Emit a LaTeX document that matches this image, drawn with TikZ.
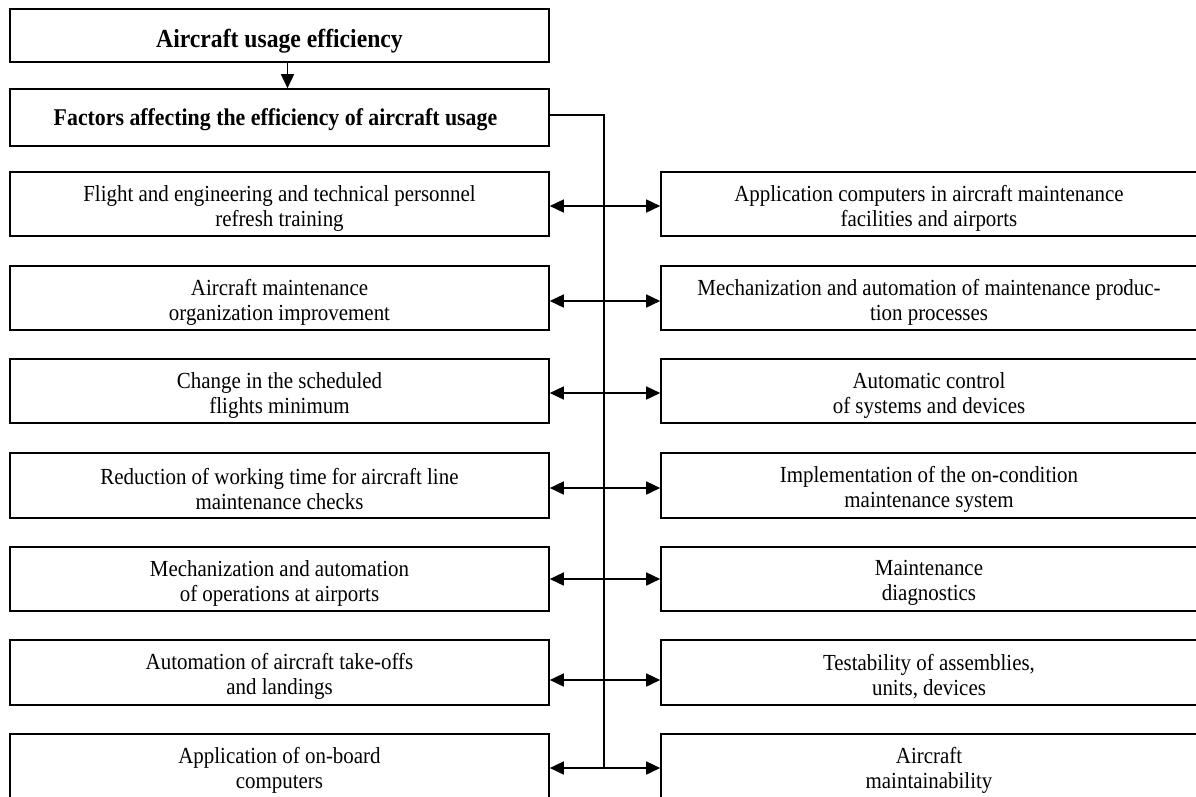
\documentclass[tikz,border=0pt]{standalone}
\usepackage{fontspec}
\setmainfont{Liberation Serif}
\newfontfamily\narrowserif[FakeStretch=0.91]{Liberation Serif}
\usetikzlibrary{arrows.meta}
\tikzset{
  box/.style={draw, line width=1.6pt, rectangle, inner sep=0pt},
  lbox/.style={box, minimum width=539pt, minimum height=64.5pt},
  rbox/.style={box, minimum width=536pt, minimum height=64.5pt},
  txt/.style={align=center, inner sep=0pt, font=\narrowserif\fontsize{23}{25}\selectfont},
  conn/.style={line width=1.6pt, {Triangle[length=14pt,width=13pt]}-{Triangle[length=14pt,width=13pt]}},
  bus/.style={line width=1.6pt},
}
\begin{document}
\begin{tikzpicture}[x=1pt,y=-1pt]
\useasboundingbox (0,0) rectangle (1196,796);
\clip (0,0) rectangle (1196,796);
\node[box, minimum width=539pt, minimum height=53pt] (top) at (279.5,35.5) {};
\node[txt, font=\narrowserif\fontsize{26}{28}\selectfont\bfseries] (topt) at ([yshift=-6pt]top.center) {Aircraft usage efficiency};
\node[box, minimum width=539pt, minimum height=57pt] (fac) at (279.5,117.5) {};
\node[txt, font=\narrowserif\fontsize{24}{26}\selectfont\bfseries] (fact) at ([xshift=-4pt,yshift=-2pt]fac.center) {Factors affecting the efficiency of aircraft usage};
\draw[line width=1.6pt, -{Triangle[length=14pt,width=13pt]}] ([xshift=8pt]top.south) -- ([xshift=8pt]fac.north);

\node[lbox] (L1) at (279.5,204) {};
\node[lbox] (L2) at (279.5,298) {};
\node[lbox] (L3) at (279.5,391) {};
\node[lbox] (L4) at (279.5,485.5) {};
\node[lbox] (L5) at (279.5,579) {};
\node[lbox] (L6) at (279.5,672.5) {};
\node[lbox] (L7) at (279.5,766.5) {};
\node[txt] (L1t) at ([yshift=-4pt]L1.center) {Flight and engineering and technical personnel\\refresh training};
\node[txt] (L2t) at ([yshift=-4pt]L2.center) {Aircraft maintenance\\organization improvement};
\node[txt] (L3t) at ([yshift=-4pt]L3.center) {Change in the scheduled\\flights minimum};
\node[txt] (L4t) at ([yshift=-4pt]L4.center) {Reduction of working time for aircraft line\\maintenance checks};
\node[txt] (L5t) at ([yshift=-4pt]L5.center) {Mechanization and automation\\of operations at airports};
\node[txt] (L6t) at ([yshift=-4pt]L6.center) {Automation of aircraft take-offs\\and landings};
\node[txt] (L7t) at ([yshift=-4pt]L7.center) {Application of on-board\\computers};

\node[rbox] (R1) at (929,204) {};
\node[rbox] (R2) at (929,298) {};
\node[rbox] (R3) at (929,391) {};
\node[rbox] (R4) at (929,485.5) {};
\node[rbox] (R5) at (929,579) {};
\node[rbox] (R6) at (929,672.5) {};
\node[rbox] (R7) at (929,766.5) {};
\node[txt] (R1t) at ([yshift=-4pt]R1.center) {Application computers in aircraft maintenance\\facilities and airports};
\node[txt] (R2t) at ([yshift=-4pt]R2.center) {Mechanization and automation of maintenance produc-\\tion processes};
\node[txt] (R3t) at ([yshift=-4pt]R3.center) {Automatic control\\of systems and devices};
\node[txt] (R4t) at ([yshift=-4pt]R4.center) {Implementation of the on-condition\\maintenance system};
\node[txt] (R5t) at ([yshift=-4pt]R5.center) {Maintenance\\diagnostics};
\node[txt] (R6t) at ([yshift=-4pt]R6.center) {Testability of assemblies,\\units, devices};
\node[txt] (R7t) at ([yshift=-4pt]R7.center) {Aircraft\\maintainability};

\coordinate (busTop) at (604,115);
\coordinate (busBot) at (604,768);
\draw[bus] ([yshift=2.5pt]fac.east) -- (busTop) -- (busBot);

\draw[conn] ([yshift=-2pt]L1.east) -- ([yshift=-2pt]R1.west);
\draw[conn] ([yshift=-3pt]L2.east) -- ([yshift=-3pt]R2.west);
\draw[conn] ([yshift=-2pt]L3.east) -- ([yshift=-2pt]R3.west);
\draw[conn] ([yshift=-2.5pt]L4.east) -- ([yshift=-2.5pt]R4.west);
\draw[conn] (L5.east) -- (R5.west);
\draw[conn] ([yshift=-7.5pt]L6.east) -- ([yshift=-7.5pt]R6.west);
\draw[conn] ([yshift=-1.5pt]L7.east) -- ([yshift=-1.5pt]R7.west);
\end{tikzpicture}
\end{document}
